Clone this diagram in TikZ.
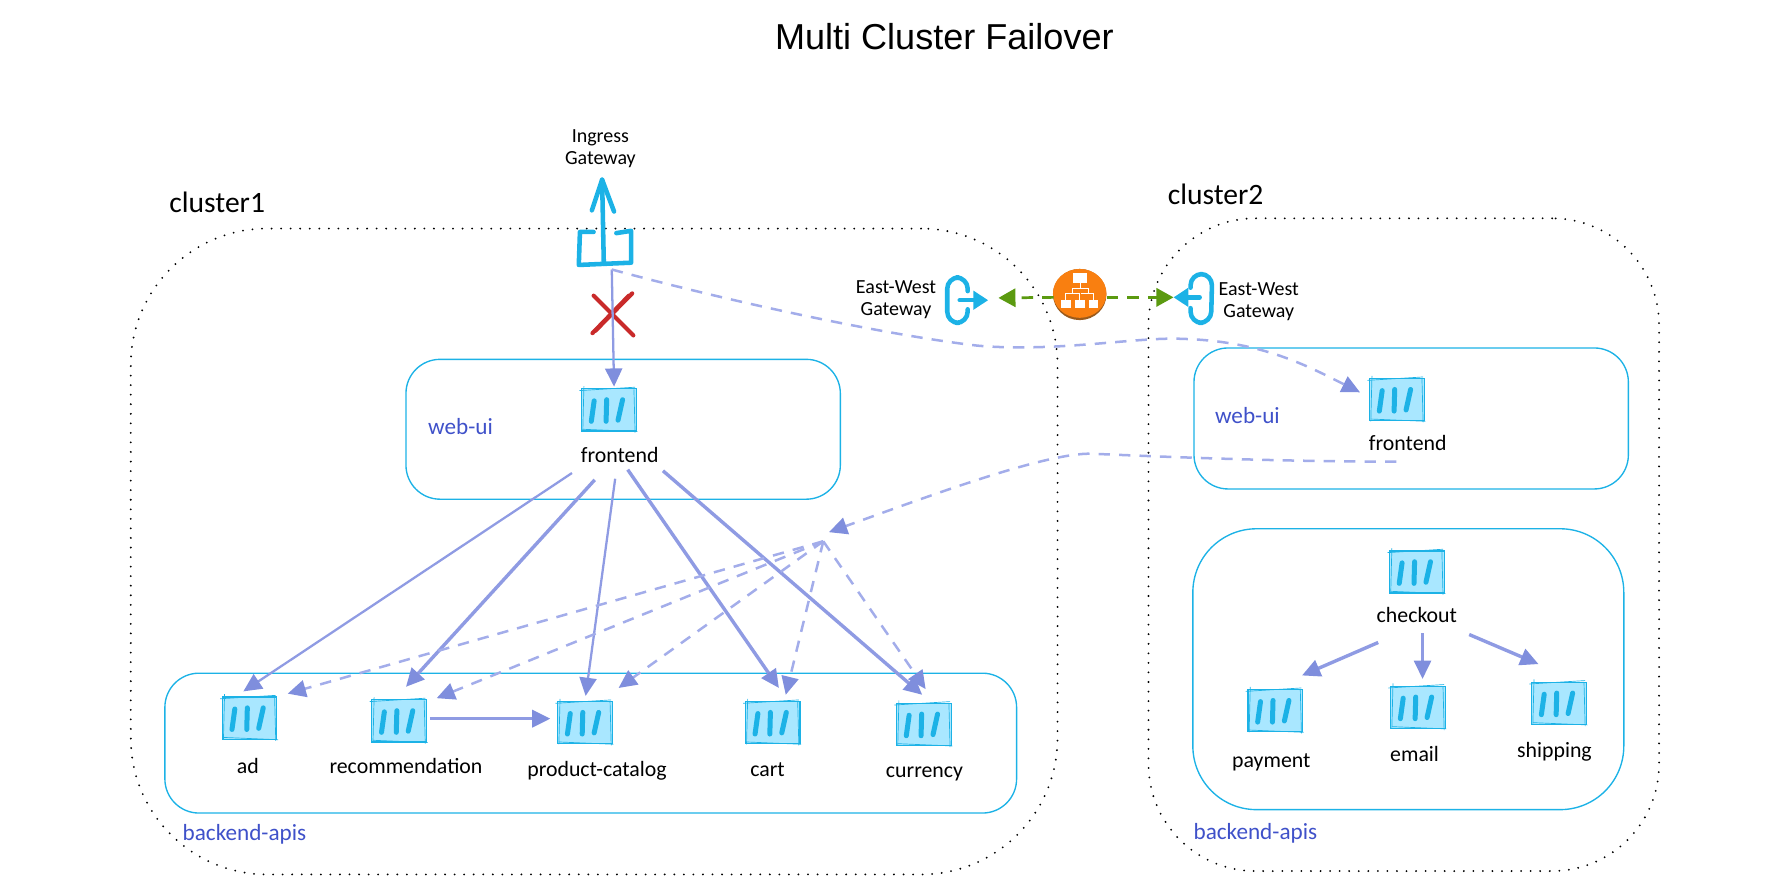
\documentclass[tikz,border=0pt]{standalone}
\usepackage{fontspec}
\setmainfont{Carlito}
\newfontfamily\titlefont{Liberation Sans}
\usetikzlibrary{arrows.meta,calc,shapes.geometric}
\definecolor{cyanline}{HTML}{1CB2E6}
\definecolor{cyanfill}{HTML}{A9E7FF}
\definecolor{flowline}{HTML}{8F9BE3}
\definecolor{flowdashc}{HTML}{A3ADEA}
\definecolor{flowhead}{HTML}{7F8EDD}
\definecolor{groupblue}{HTML}{3F51C9}
\definecolor{crossred}{HTML}{C92A2A}
\definecolor{linkgreen}{HTML}{5B9A10}
\definecolor{lborange}{HTML}{F97F10}
\definecolor{lbshadow}{HTML}{9A5A1C}
\tikzset{
  x=0.5pt,y=-0.5pt,
  clusterbox/.style={draw=black,line width=0.9pt,line cap=round,dash pattern=on 0pt off 4.2pt,rounded corners=#1,inner sep=0pt},
  groupbox/.style={draw=cyanline,line width=0.6pt,rounded corners=#1,inner sep=0pt},
  svcbox/.style={draw=cyanline,fill=cyanfill,line width=0.5pt,minimum width=24pt,minimum height=18.5pt,inner sep=0pt},
  svcbar/.style={draw=cyanline,line width=2.2pt,line cap=round},
  svcedge/.style={draw=cyanline,line width=0.3pt},
  svctext/.style={font=\fontsize{9.6}{12}\selectfont,text=black,inner sep=0pt},
  gwtext/.style={font=\fontsize{8.8}{9.5}\selectfont,text=black,align=center,inner sep=0pt},
  clustertext/.style={font=\fontsize{13}{16}\selectfont,text=black,inner sep=0pt},
  grouptext/.style={font=\fontsize{10.2}{11}\selectfont,text=groupblue,inner sep=0pt},
  flow/.style={draw=flowline,line width=1pt,-{Triangle[length=8pt,width=7.5pt,color=flowhead,fill=flowhead]}},
  flowbold/.style={flow,line width=1.5pt},
  flowdash/.style={flow,draw=flowdashc,line width=1.1pt,dash pattern=on 5pt off 4pt},
  linkdash/.style={draw=linkgreen,line width=1.2pt,dash pattern=on 5pt off 4pt,-{Triangle[length=7.5pt,width=8pt,color=linkgreen,fill=linkgreen]}},
  gwicon/.style={draw=cyanline,line width=2pt,line cap=round,line join=round},
  gwarrow/.style={draw=cyanline,line width=2pt,line cap=round,-{Triangle[length=6.5pt,width=8pt,color=cyanline,fill=cyanline]}},
  crossline/.style={draw=crossred,line width=1.8pt,line cap=round},
  orgline/.style={draw=white,line width=0.4pt},
  orgbox/.style={fill=white,draw=none},
}
\newcommand{\svc}[3]{%
  \node[svcbox] (#1) at (#2,#3) {};
  \draw[svcedge] (#2-26,#3-17) -- (#2+23,#3-20);
  \draw[svcedge] (#2-23,#3+17) -- (#2+25,#3+19);
  \draw[svcedge] (#2-22,#3-21) -- (#2-23,#3+19);
  \draw[svcedge] (#2+22,#3-18) -- (#2+23,#3+20);
  \draw[svcbar] (#2-13,#3-8) -- (#2-15.5,#3+10);
  \draw[svcbar] (#2-2,#3-9) -- (#2-2.5,#3+10);
  \draw[svcbar] (#2+12,#3-9) -- (#2+8,#3+9);
}
\begin{document}
\begin{tikzpicture}
\useasboundingbox (0,0) rectangle (1568,787);
% title
\node[font=\titlefont\fontsize{15.85}{18}\selectfont,inner sep=0pt] (title) at (830.5,32) {Multi Cluster Failover};
% clusters
\node[clusterbox=60pt,minimum width=407.5pt,minimum height=284pt] (cluster1) at (522.5,485) {};
\node[clusterbox=47pt,minimum width=224.5pt,minimum height=287pt] (cluster2) at (1234.5,479) {};
\node[clustertext] (cluster1label) at (191,178) {cluster1};
\node[clustertext] (cluster2label) at (1069,171) {cluster2};
% groups
\node[groupbox=15pt,minimum width=191pt,minimum height=61.5pt] (webui1) at (548,377.5) {};
\node[groupbox=15pt,minimum width=374.5pt,minimum height=61.5pt] (backend1) at (519.5,653.5) {};
\node[groupbox=15pt,minimum width=191pt,minimum height=62pt] (webui2) at (1241,368) {};
\node[groupbox=28pt,minimum width=189.5pt,minimum height=123.5pt] (backend2) at (1238.5,588.5) {};
\node[grouptext] (webui1label) at (405,375) {web-ui};
\node[grouptext] (webui2label) at (1097,365) {web-ui};
\node[grouptext] (backend1label) at (215,734) {backend-apis};
\node[grouptext] (backend2label) at (1104,733) {backend-apis};
% services
\svc{frontendA}{535.5}{360.5}
\svc{ad}{219.5}{631.5}
\svc{recommendation}{351}{634}
\svc{catalog}{514.5}{635.5}
\svc{cart}{679.5}{635.5}
\svc{currency}{812.5}{637}
\svc{frontendB}{1228.5}{351.5}
\svc{checkout}{1246}{503}
\svc{payment}{1121.5}{625}
\svc{email}{1247}{622}
\svc{shipping}{1371}{618.5}
\node[svctext] (frontendAlabel) at (545,400) {frontend};
\node[svctext] (adlabel) at (218,674) {ad};
\node[svctext] (recommendationlabel) at (357,674) {recommendation};
\node[svctext] (cataloglabel) at (525,678) {product-catalog};
\node[svctext] (cartlabel) at (675,677) {cart};
\node[svctext] (currencylabel) at (813,680.5) {currency};
\node[svctext] (frontendBlabel) at (1238,390) {frontend};
\node[svctext] (checkoutlabel) at (1246,541) {checkout};
\node[svctext] (paymentlabel) at (1118,670) {payment};
\node[svctext] (emaillabel) at (1244,663) {email};
\node[svctext] (shippinglabel) at (1367,661) {shipping};
% ingress gateway
\node[gwtext] (ingresslabel) at (528,131) {Ingress\\Gateway};
\draw[gwicon] (522,204) -- (510,204) -- (509,233) -- (555,231) -- (555,203) -- (542,205);
\coordinate (ingressbase) at (531,232);
\coordinate (ingresstop) at (529.5,158);
\draw[gwicon] (ingressbase) -- (ingresstop);
\draw[gwicon] (520.5,185) -- (ingresstop) -- (540,186);
\coordinate (ingress) at (538,237);
% failed link marker
\draw[crossline] (523.5,291) -- (556,258);
\draw[crossline] (521,293) -- (553,260);
\draw[crossline] (522,260) -- (557,295);
% east-west gateways
\node[gwtext] (ewAlabel) at (788,263.5) {East-West\\Gateway};
\node[gwtext] (ewBlabel) at (1107,265.5) {East-West\\Gateway};
\draw[gwicon,rounded corners=5pt] (851,256) -- (851,244) -- (833,244) -- (833,284) -- (851,284) -- (851,272);
\coordinate (ewA) at (844,264);
\coordinate (ewAtip) at (869,264);
\draw[gwarrow] (ewA) -- (ewAtip);
\draw[gwicon,rounded corners=5pt] (1047,253) -- (1047,241) -- (1066,241) -- (1065,284) -- (1047,284) -- (1047,271);
\coordinate (ewB) at (1055,261.5);
\coordinate (ewBtip) at (1032,261.5);
\draw[gwarrow] (ewB) -- (ewBtip);
% load balancer
\node[ellipse,fill=lbshadow,minimum width=23.5pt,minimum height=22.5pt,inner sep=0pt] (lbshade) at (949.5,259) {};
\node[ellipse,fill=lborange,minimum width=23.5pt,minimum height=21.5pt,inner sep=0pt] (lb) at (949.5,258) {};
\fill[orgbox] (944,240) rectangle (956,249);
\fill[orgbox] (933,264) rectangle (941.5,271);
\fill[orgbox] (945.5,264) rectangle (954,271);
\fill[orgbox] (957.5,264) rectangle (966,271);
\draw[orgline] (950,249) -- (950,253) (943,258) -- (943,254) -- (957,254) -- (957,258)
  (937,264) -- (937,258.5) -- (949.5,258.5) -- (949.5,264) (951,258.5) -- (962,258.5) -- (962,264);
\draw[linkdash] ($(lb)+(-23,3.5)$) -- ($(ewA)+(34,-2)$);
\draw[linkdash] ($(lb)+(24,3.5)$) -- ($(ewBtip)+(0,0)$);
% ingress traffic
\draw[flow] (ingress) -- ($(frontendA)+(4.5,-20.5)$);
\draw[flowdash] (ingress) .. controls (660,270) and (790,296) .. (860,304)
  .. controls (930,310) and (1000,296) .. (1040,298)
  .. controls (1110,300) and (1150,322) .. ($(frontendB)+(-32.5,-6.5)$);
% frontend calls
\draw[flow] ($(frontendAlabel)+(-42,16)$) -- ($(ad)+(-5.5,-23.5)$);
\draw[flowbold] ($(frontendAlabel)+(-22,22)$) -- ($(recommendation)+(6,-30)$);
\draw[flow] ($(frontendAlabel)+(-4,21)$) -- ($(catalog)+(0.5,-23.5)$);
\draw[flowbold] ($(frontendAlabel)+(7,13)$) -- ($(cart)+(5.5,-30.5)$);
\draw[flowbold] ($(frontendAlabel)+(38,14)$) -- ($(currency)+(-1.5,-26)$);
\draw[flowbold] ($(recommendation)+(27,-2)$) -- ($(catalog)+(-30.5,-3.5)$);
% failover traffic
\coordinate (hub) at (729,468);
\coordinate (fan) at (724,476);
\draw[flowdash] ($(frontendBlabel)+(-10,16)$) .. controls (1130,406) and (1030,402) .. (960,399)
  .. controls (920,398) and (820,435) .. (hub);
\draw[flowdash] (fan) -- ($(ad)+(33.5,-21.5)$);
\draw[flowdash] (fan) -- ($(recommendation)+(33,-20)$);
\draw[flowdash] (fan) -- ($(catalog)+(29.5,-30.5)$);
\draw[flowdash] (fan) -- ($(cart)+(11.5,-24.5)$);
\draw[flowdash] (fan) -- ($(currency)+(1.5,-31)$);
% checkout calls
\draw[flowbold] ($(checkoutlabel)+(-34,24)$) -- ($(payment)+(23.5,-31)$);
\draw[flow] ($(checkoutlabel)+(5,16)$) -- ($(email)+(4,-25)$);
\draw[flowbold] ($(checkoutlabel)+(46,17)$) -- ($(shipping)+(-18,-34.5)$);
\end{tikzpicture}
\end{document}
